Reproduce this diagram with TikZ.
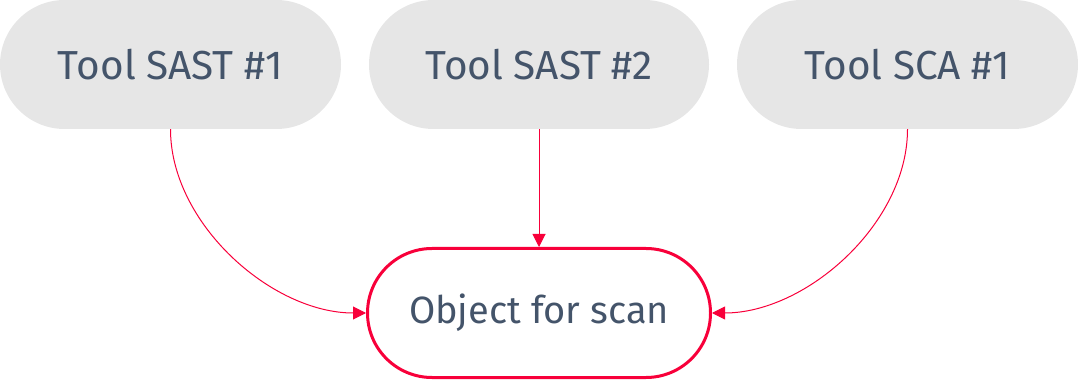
\documentclass[tikz,border=0pt]{standalone}
\usepackage{fontspec}
\setmainfont{Fira Sans}
\usetikzlibrary{arrows.meta}
\definecolor{pillgray}{HTML}{E6E6E6}
\definecolor{scanred}{HTML}{F8003A}
\definecolor{labelink}{HTML}{44546A}
\tikzset{
  toolpill/.style={rectangle, rounded corners=64.5pt, fill=pillgray,
    minimum width=340pt, minimum height=129pt, inner sep=0pt,
    text=labelink, font=\fontsize{40.5}{46}\selectfont},
  targetpill/.style={rectangle, rounded corners=64.5pt, draw=scanred, line width=3pt,
    fill=white, minimum width=343pt, minimum height=129pt, inner sep=0pt,
    text=labelink, font=\fontsize{38}{44}\selectfont},
  feed/.style={draw=scanred, line width=1pt,
    -{Triangle[length=13pt,width=13pt]}}
}
\begin{document}
\begin{tikzpicture}[x=1pt,y=1pt]
  \useasboundingbox (0,0) rectangle (1078,380);
  \node[toolpill, minimum width=341pt] (t1) at (170.5,315.5) {Tool SAST \#1};
  \node[toolpill] (t2) at (539,315.5) {Tool SAST \#2};
  \node[toolpill, minimum width=341pt] (t3) at (907.5,315.5) {Tool SCA \#1};
  \node[targetpill] (obj) at (539,67) {Object for scan};
  \draw[feed] (t1.south) to[out=-90, in=180, looseness=0.9] (obj.west);
  \draw[feed] (t2.south) -- (obj.north);
  \draw[feed] (t3.south) to[out=-90, in=0, looseness=0.9] (obj.east);
\end{tikzpicture}
\end{document}
